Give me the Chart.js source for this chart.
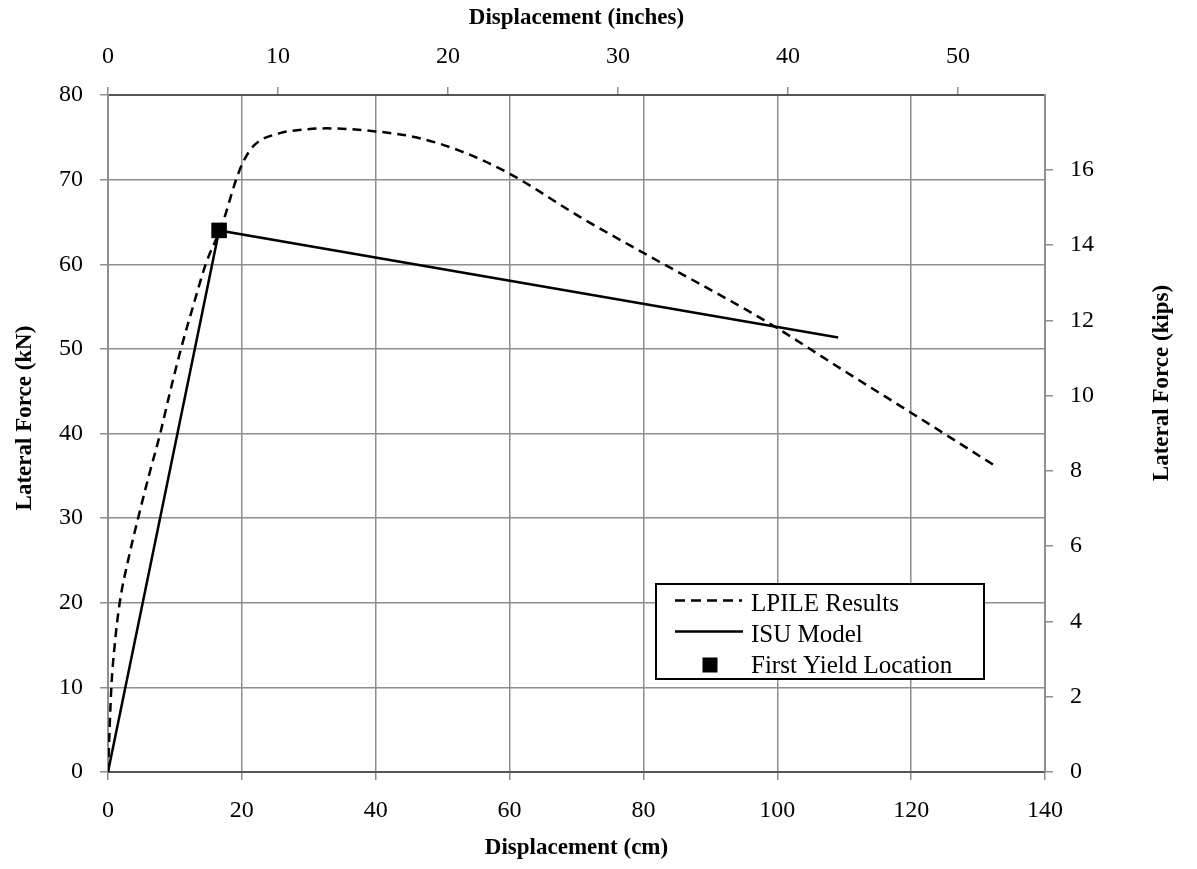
<!DOCTYPE html>
<html><head><meta charset="utf-8">
<script src="https://cdn.jsdelivr.net/npm/chart.js@4"></script>
<style>html,body{margin:0;padding:0;background:#fff;overflow:hidden}</style>
</head><body>
<canvas id="c" width="1197" height="869"></canvas>
<script>
// ---- data (cm, kN) ----
const lpileX = [0, 0.5, 1.0, 1.75, 3.0, 4.5, 6.1, 7.8, 9.3, 10.9, 12.7, 14.6, 17.1, 19.1, 20.2, 21.9, 25.7, 27.9, 32.6, 40.0, 46.0, 52.6, 60.0, 70.5, 80.1, 95.4, 100.1, 110.0, 120.1, 132.3];
const lpileY = [0, 10.0, 15.0, 20.0, 25.0, 30.0, 35.0, 40.0, 45.0, 50.0, 55.0, 60.0, 64.8, 69.9, 72.1, 74.1, 75.5, 75.8, 76.06, 75.7, 75.0, 73.4, 70.7, 65.6, 61.3, 54.6, 52.4, 47.4, 42.4, 36.3];
const isuX = [0, 16.6, 109.1];
const isuY = [0, 64.0, 51.35];
const yieldX = [16.6];
const yieldY = [64.0];
const seriesNames = ['LPILE Results', 'ISU Model', 'First Yield Location'];
// ---- tick labels ----
const bottomTicks = [0, 20, 40, 60, 80, 100, 120, 140];
const leftTicks = [0, 10, 20, 30, 40, 50, 60, 70, 80];
const topTicks = [0, 10, 20, 30, 40, 50];
const rightTicks = [0, 2, 4, 6, 8, 10, 12, 14, 16];
const xTitle = 'Displacement (cm)';
const x2Title = 'Displacement (inches)';
const yTitle = 'Lateral Force (kN)';
const y2Title = 'Lateral Force (kips)';
const CM_PER_IN = 2.54, KN_PER_KIP = 4.44822;

const FONT = '"Liberation Serif", "Times New Roman", serif';
const GRID = '#8e8e8e';
const setTicks = arr => s => { s.ticks = arr.map(v => ({value: v})); };
const tickFont = {family: FONT, size: 24};
const titleFont = {family: FONT, size: 23, weight: 'bold', lineHeight: 1.2};

const toPts = (xs, ys) => xs.map((x, i) => ({x, y: ys[i]}));

const overlay = {
  id: 'overlay',
  afterDraw(chart) {
    const ctx = chart.ctx;
    const ca = chart.chartArea;
    ctx.save();
    // vertical axis titles (both read bottom-to-top)
    ctx.fillStyle = '#000';
    ctx.font = 'bold 23px ' + FONT;
    ctx.textAlign = 'center';
    ctx.textBaseline = 'middle';
    ctx.save(); ctx.translate(25, 418); ctx.rotate(-Math.PI / 2); ctx.fillText(yTitle, 0, 0); ctx.restore();
    ctx.save(); ctx.translate(1162, 383); ctx.rotate(-Math.PI / 2); ctx.fillText(y2Title, 0, 0); ctx.restore();
    // legend
    const bx = 656, by = 584, bw = 328, bh = 95;
    ctx.fillStyle = '#fff';
    ctx.fillRect(bx, by, bw, bh);
    ctx.strokeStyle = '#000';
    ctx.lineWidth = 2;
    ctx.strokeRect(bx, by, bw, bh);
    ctx.lineWidth = 2.5;
    ctx.setLineDash([10, 6]);
    ctx.beginPath(); ctx.moveTo(675, 600.5); ctx.lineTo(742, 600.5); ctx.stroke();
    ctx.setLineDash([]);
    ctx.beginPath(); ctx.moveTo(675, 631.5); ctx.lineTo(743, 631.5); ctx.stroke();
    ctx.fillStyle = '#000';
    ctx.fillRect(702.5, 657.5, 15, 15);
    ctx.font = '25px ' + FONT;
    ctx.textAlign = 'left';
    ctx.textBaseline = 'alphabetic';
    ctx.fillText(seriesNames[0], 751, 611);
    ctx.fillText(seriesNames[1], 751, 642);
    ctx.fillText(seriesNames[2], 751, 673);
    ctx.restore();
  }
};

new Chart(document.getElementById('c'), {
  type: 'scatter',
  data: {
    datasets: [
      {label: seriesNames[2], data: toPts(yieldX, yieldY), xAxisID: 'x', yAxisID: 'y', order: 0,
       showLine: false, pointStyle: 'rect', pointRadius: 11, backgroundColor: '#000', borderColor: '#000', borderWidth: 0},
      {label: seriesNames[1], data: toPts(isuX, isuY), xAxisID: 'x', yAxisID: 'y', order: 1,
       showLine: true, borderColor: '#000', borderWidth: 2.5, pointRadius: 0, tension: 0},
      {label: seriesNames[0], data: toPts(lpileX, lpileY), xAxisID: 'x', yAxisID: 'y', order: 2,
       showLine: true, borderColor: '#000', borderWidth: 2.5, borderDash: [9, 6], pointRadius: 0,
       cubicInterpolationMode: 'monotone'}
    ]
  },
  options: {
    responsive: false, animation: false, devicePixelRatio: 1,
    layout: {padding: 0},
    plugins: {legend: {display: false}, tooltip: {enabled: false}},
    scales: {
      x: {type: 'linear', position: 'bottom', min: 0, max: 140,
          afterBuildTicks: setTicks(bottomTicks), afterFit: s => { s.height = 97; },
          ticks: {font: tickFont, color: '#000', padding: 16, maxRotation: 0},
          grid: {color: GRID, lineWidth: 1.5, tickLength: 8, tickColor: GRID},
          border: {color: '#555', width: 2},
          title: {display: true, text: xTitle, font: titleFont, color: '#000', padding: {top: 0, bottom: 7}}},
      x2: {type: 'linear', position: 'top', min: 0, max: 140 / CM_PER_IN,
          afterBuildTicks: setTicks(topTicks), afterFit: s => { s.height = 95; },
          ticks: {font: tickFont, color: '#000', padding: 16, maxRotation: 0},
          grid: {drawOnChartArea: false, color: GRID, lineWidth: 1.5, tickLength: 8, tickColor: GRID},
          border: {color: '#555', width: 2},
          title: {display: true, text: x2Title, font: titleFont, color: '#000', padding: {top: 4, bottom: 0}}},
      y: {type: 'linear', position: 'left', min: 0, max: 80,
          afterBuildTicks: setTicks(leftTicks), afterFit: s => { s.width = 108; },
          ticks: {font: tickFont, color: '#000', padding: 17},
          grid: {color: GRID, lineWidth: 1.5, tickLength: 8, tickColor: GRID},
          border: {color: GRID, width: 2}},
      y2: {type: 'linear', position: 'right', min: 0, max: 80 / KN_PER_KIP,
          afterBuildTicks: setTicks(rightTicks), afterFit: s => { s.width = 152; },
          ticks: {font: tickFont, color: '#000', padding: 17},
          grid: {drawOnChartArea: false, color: GRID, lineWidth: 1.5, tickLength: 8, tickColor: GRID},
          border: {color: GRID, width: 2}}
    }
  },
  plugins: [overlay]
});
</script>
</body></html>
